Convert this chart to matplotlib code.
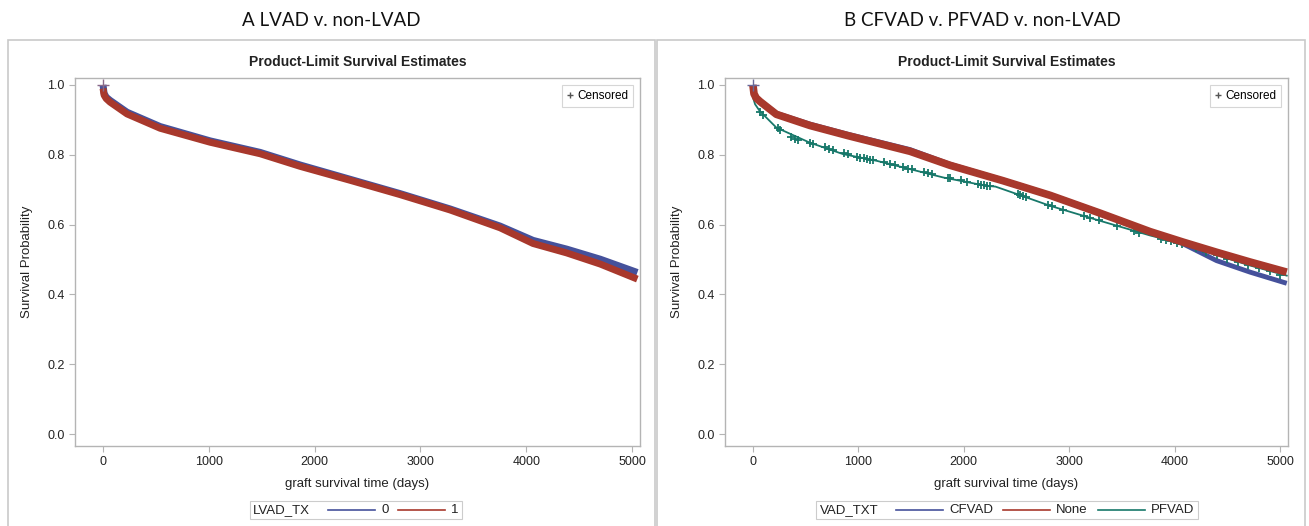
import matplotlib
matplotlib.use("Agg")
import matplotlib.pyplot as plt
from matplotlib.lines import Line2D
from matplotlib.patches import Rectangle
from matplotlib.offsetbox import HPacker, TextArea, DrawingArea, AnchoredOffsetbox

# ---------------- data ----------------
# Panel A: LVAD_TX 0 / 1
t_a = [0, 10, 30, 66, 227, 540, 1012, 1485, 1862, 2335, 2807, 3280, 3752, 4064, 4382, 4700, 5050]
surv_a0 = [1.0, 0.976, 0.965, 0.956, 0.922, 0.881, 0.840, 0.807, 0.771, 0.730, 0.689, 0.645, 0.596, 0.555, 0.530, 0.501, 0.463]
surv_a1 = [0.99, 0.971, 0.961, 0.951, 0.917, 0.876, 0.836, 0.803, 0.767, 0.727, 0.686, 0.642, 0.591, 0.546, 0.519, 0.487, 0.444]
groups_a = ["0", "1"]

# Panel B: VAD_TXT CFVAD / None / PFVAD
t_b = [0, 10, 30, 66, 222, 540, 900, 1490, 1869, 2370, 2818, 3292, 3767, 4080, 4397, 4715, 5063]
surv_cf = [1.0, 0.976, 0.964, 0.955, 0.919, 0.888, 0.859, 0.815, 0.773, 0.728, 0.686, 0.635, 0.580, 0.545, 0.497, 0.464, 0.432]
surv_none = [1.0, 0.975, 0.963, 0.953, 0.916, 0.884, 0.855, 0.810, 0.770, 0.726, 0.684, 0.633, 0.580, 0.550, 0.521, 0.493, 0.464]
t_pf = [0, 20, 63, 222, 538, 855, 1171, 1490, 1806, 2217, 2300, 2500, 2818, 3292, 3767, 4080, 4397, 4715, 5063]
surv_pf = [0.965, 0.945, 0.926, 0.878, 0.835, 0.802, 0.783, 0.759, 0.735, 0.711, 0.709, 0.688, 0.654, 0.611, 0.569, 0.545, 0.513, 0.483, 0.454]
groups_b = ["CFVAD", "None", "PFVAD"]

# PFVAD censor marks (time, survival)
cens_pf_t = [70, 100, 235, 255, 360, 400, 430, 545, 565, 680, 720, 755, 860, 900, 990, 1020, 1050, 1080, 1110, 1140,
             1240, 1300, 1350, 1420, 1470, 1510, 1620, 1660, 1700, 1850, 1870, 1970, 2030, 2130, 2160, 2190, 2220, 2245,
             2510, 2530, 2560, 2590, 2800, 2840, 2945, 3140, 3200, 3280, 3450, 3610, 3660, 3870, 3920, 3970, 4020, 4070,
             4200, 4300, 4400, 4500, 4600, 4700, 4800, 4900, 5000]
cens_pf_s = [0.922, 0.915, 0.876, 0.872, 0.850, 0.845, 0.841, 0.834, 0.832, 0.822, 0.818, 0.815, 0.804, 0.801, 0.795, 0.792, 0.790, 0.788, 0.786, 0.784,
             0.778, 0.773, 0.770, 0.764, 0.760, 0.758, 0.750, 0.747, 0.744, 0.734, 0.733, 0.727, 0.723, 0.716, 0.714, 0.713, 0.711, 0.710,
             0.687, 0.685, 0.682, 0.679, 0.656, 0.652, 0.642, 0.625, 0.619, 0.612, 0.596, 0.581, 0.576, 0.560, 0.556, 0.552, 0.548, 0.545,
             0.532, 0.523, 0.513, 0.503, 0.494, 0.485, 0.476, 0.466, 0.457]

x_ticks = [0, 1000, 2000, 3000, 4000, 5000]
y_ticks = [0.0, 0.2, 0.4, 0.6, 0.8, 1.0]

# ---------------- style ----------------
BLUE = "#45519b"
RED = "#a8382c"
TEAL = "#17786a"
GRAY = "#b4b4b4"
TXT = "#222222"
plt.rcParams["font.family"] = ["Liberation Sans Narrow", "Liberation Sans", "DejaVu Sans"]

W, H = 1309, 526
fig = plt.figure(figsize=(W / 100, H / 100), dpi=100)
PT = 0.72  # points per pixel at 100 dpi


def fx(px):
    return px / W


def fy(py):
    return 1 - py / H


# panel frames
for x0, x1 in [(8, 655), (657, 1305)]:
    fig.patches.append(Rectangle((fx(x0), fy(530)), fx(x1 - x0), fy(40) - fy(530),
                                 transform=fig.transFigure, fill=False, edgecolor="#c9c9c9", lw=1.2))

fig.text(fx(331), fy(20), "A LVAD v. non-LVAD", ha="center", va="center", fontsize=13.5, family=["Lato", "DejaVu Sans"], color="#111111")
fig.text(fx(982), fy(20), "B CFVAD v. PFVAD v. non-LVAD", ha="center", va="center", fontsize=13.5, family=["Lato", "DejaVu Sans"], color="#111111")

ax_a = fig.add_axes([fx(75), fy(446), fx(640 - 75), fy(78) - fy(446)])
ax_b = fig.add_axes([fx(725), fy(446), fx(1288 - 725), fy(78) - fy(446)])


def style_axis(ax):
    ax.set_xlim(-265, 5075)
    ax.set_ylim(-0.034, 1.02)
    ax.set_xticks(x_ticks)
    ax.set_yticks(y_ticks)
    ax.set_yticklabels([f"{v:.1f}" for v in y_ticks])
    for s in ax.spines.values():
        s.set_color(GRAY)
        s.set_linewidth(1.0)
    ax.tick_params(axis="both", colors=GRAY, labelcolor=TXT, labelsize=9, length=4, width=0.8)
    ax.set_xlabel("graft survival time (days)", fontsize=9.5, color=TXT, labelpad=7)
    ax.set_ylabel("Survival Probability", fontsize=9.5, color=TXT, labelpad=10)
    ax.set_title("Product-Limit Survival Estimates", fontsize=10, fontweight="bold", color=TXT, pad=9)
    cens = Line2D([], [], color="#555555", marker="+", linestyle="none", markersize=5)
    lg = ax.legend([cens], ["Censored"], loc="upper right", fontsize=8.5, frameon=True, fancybox=False,
                   handlelength=0.6, handletextpad=0.3, borderpad=0.4, borderaxespad=0.6)
    lg.get_frame().set_edgecolor("#cccccc")
    lg.get_frame().set_linewidth(0.8)


style_axis(ax_a)
style_axis(ax_b)

# Panel A curves
ax_a.plot(t_a, surv_a0, color=BLUE, lw=5, solid_capstyle="butt", zorder=2)
ax_a.plot(t_a, surv_a1, color=RED, lw=5, solid_capstyle="butt", zorder=3)
ax_a.plot([0], [1.0], marker="+", color="#8a6a8a", markersize=8, zorder=4)

# Panel B curves
ax_b.plot(t_b, surv_cf, color=BLUE, lw=3.5, solid_capstyle="butt", zorder=2)
ax_b.plot(t_pf, surv_pf, color=TEAL, lw=1.3, zorder=3)
ax_b.plot(cens_pf_t, cens_pf_s, linestyle="none", marker="+", color=TEAL, markersize=6, mew=1.3, zorder=3)
ax_b.plot(t_b, surv_none, color=RED, lw=5.5, solid_capstyle="butt", zorder=4)
ax_b.plot([0], [1.0], marker="+", color="#6a6a9a", markersize=8, zorder=5)


def group_legend(ax, title, names, colors, cx):
    tp = dict(fontsize=9.5, color=TXT)
    items = []
    for name, c in zip(names, colors):
        da = DrawingArea(47 * PT, 8 * PT, 0, 0)
        da.add_artist(Line2D([0, 47 * PT], [4 * PT, 4 * PT], color=c, lw=1.2))
        items.append(HPacker(pad=0, sep=6 * PT, align="center", children=[da, TextArea(name, textprops=tp)]))
    group = HPacker(pad=0, sep=10 * PT, align="center", children=items)
    box = HPacker(pad=0, sep=18 * PT, align="center", children=[TextArea(title, textprops=tp), group])
    anc = AnchoredOffsetbox(loc="center", child=box, pad=0.25, borderpad=0, frameon=True,
                            bbox_to_anchor=(cx, fy(510)), bbox_transform=fig.transFigure)
    anc.patch.set_edgecolor("#cccccc")
    anc.patch.set_linewidth(0.8)
    anc.patch.set_boxstyle("square", pad=0)
    ax.add_artist(anc)


group_legend(ax_a, "LVAD_TX", groups_a, [BLUE, RED], fx(356))
group_legend(ax_b, "VAD_TXT", groups_b, [BLUE, RED, TEAL], fx(1007))

fig.savefig("out.png", dpi=100, facecolor="white")
